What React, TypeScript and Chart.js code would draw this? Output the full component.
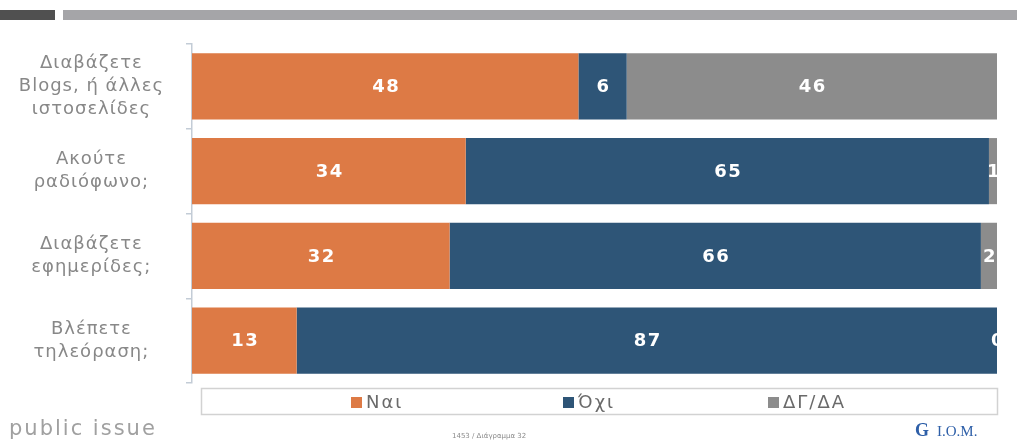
import React, { useEffect, useRef } from "react";
import { Chart, registerables } from "chart.js";

Chart.register(...registerables);

const categories: string[][] = [
  ["Διαβάζετε", "Blogs, ή άλλες", "ιστοσελίδες"],
  ["Ακούτε", "ραδιόφωνο;"],
  ["Διαβάζετε", "εφημερίδες;"],
  ["Βλέπετε", "τηλεόραση;"],
];
const seriesNames = ["Ναι", "Όχι", "ΔΓ/ΔΑ"];
const yesValues = [48, 34, 32, 13];
const noValues = [6, 65, 66, 87];
const dkValues = [46, 1, 2, 0];
const colors = ["#DD7A45", "#2E5577", "#8C8C8C"];

const FONT = "'DejaVu Sans', 'Open Sans', sans-serif";

const spacingPlugin = {
  id: "spacing",
  beforeDraw(chart: any) {
    chart.ctx.letterSpacing = "1px";
  },
};

const labelPlugin = {
  id: "segLabels",
  afterDatasetsDraw(chart: any) {
    const ctx = chart.ctx;
    const area = chart.chartArea;
    ctx.save();
    ctx.beginPath();
    ctx.rect(area.left, area.top, area.right - area.left, area.bottom - area.top);
    ctx.clip();
    ctx.fillStyle = "#ffffff";
    ctx.font = `bold 18px ${FONT}`;
    ctx.letterSpacing = "1.5px";
    ctx.textAlign = "center";
    ctx.textBaseline = "middle";
    chart.data.datasets.forEach((ds: any, i: number) => {
      const meta = chart.getDatasetMeta(i);
      meta.data.forEach((bar: any, j: number) => {
        const v = ds.data[j];
        const cx = (bar.x + bar.base) / 2;
        ctx.fillText(String(v), cx + 1, bar.y + 1);
      });
    });
    ctx.restore();
  },
};

const legendPlugin = {
  id: "boxLegend",
  afterDraw(chart: any) {
    const ctx = chart.ctx;
    ctx.save();
    ctx.strokeStyle = "#D2D2D2";
    ctx.lineWidth = 1.5;
    ctx.strokeRect(201.5, 388.5, 796, 26);
    const xs = [351, 563, 768];
    ctx.font = `18px ${FONT}`;
    ctx.letterSpacing = "2px";
    ctx.textBaseline = "middle";
    ctx.textAlign = "left";
    chart.data.datasets.forEach((ds: any, i: number) => {
      ctx.fillStyle = ds.backgroundColor;
      ctx.fillRect(xs[i], 397, 11, 11);
      ctx.fillStyle = "#6A6A6A";
      ctx.fillText(ds.label, xs[i] + 15, 403);
    });
    ctx.restore();
  },
};

export default function App() {
  const ref = useRef<HTMLCanvasElement | null>(null);
  useEffect(() => {
    if (!ref.current) return;
    const chart = new Chart(ref.current, {
      type: "bar",
      data: {
        labels: categories,
        datasets: [
          { label: seriesNames[0], data: yesValues, backgroundColor: colors[0] },
          { label: seriesNames[1], data: noValues, backgroundColor: colors[1] },
          { label: seriesNames[2], data: dkValues, backgroundColor: colors[2] },
        ],
      },
      options: {
        indexAxis: "y",
        responsive: false,
        animation: false,
        layout: { padding: { left: 0, right: 20, top: 44, bottom: 60 } },
        datasets: { bar: { categoryPercentage: 1, barPercentage: 0.78 } } as any,
        plugins: { legend: { display: false }, tooltip: { enabled: false } },
        scales: {
          x: { stacked: true, min: 0, max: 100, display: false },
          y: {
            stacked: true,
            afterFit(scale: any) {
              scale.width = 192;
              scale.paddingTop = 0;
              scale.paddingBottom = 0;
            },
            border: { display: true, color: "#C3CCD6", width: 1.5 },
            grid: {
              drawOnChartArea: false,
              drawTicks: true,
              tickLength: 6,
              color: "#C3CCD6",
              lineWidth: 1.5,
            },
            ticks: {
              crossAlign: "center",
              color: "#888888",
              font: { family: FONT, size: 18, lineHeight: 1.28 },
              padding: 29,
            },
          },
        },
      },
      plugins: [spacingPlugin, labelPlugin, legendPlugin],
    });
    return () => chart.destroy();
  }, []);

  return (
    <div style={{ position: "absolute", left: 0, top: 0, width: 1017, height: 443, background: "#FFFFFF", overflow: "hidden" }}>
      <div style={{ position: "absolute", left: 0, top: 10, width: 55, height: 10, background: "#505050" }} />
      <div style={{ position: "absolute", left: 63, top: 10, width: 954, height: 10, background: "#A5A5A8" }} />
      <canvas ref={ref} width={1017} height={443} style={{ position: "absolute", left: 0, top: 0 }} />
      <div style={{ position: "absolute", left: 9, top: 416, fontFamily: FONT, fontSize: 21, color: "#A0A0A0", letterSpacing: 2, whiteSpace: "nowrap" }}>public issue</div>
      <div style={{ position: "absolute", left: 452, top: 432, fontFamily: FONT, fontSize: 7, color: "#8A8A8A", whiteSpace: "nowrap" }}>1453 / Διάγραμμα 32</div>
      <div style={{ position: "absolute", left: 915, top: 420, fontFamily: "'Liberation Serif', serif", fontSize: 15, color: "#2E5FA8", whiteSpace: "nowrap" }}>
        <span style={{ fontSize: 18, fontWeight: "bold", marginRight: 8 }}>G</span>I.O.M.
      </div>
    </div>
  );
}
